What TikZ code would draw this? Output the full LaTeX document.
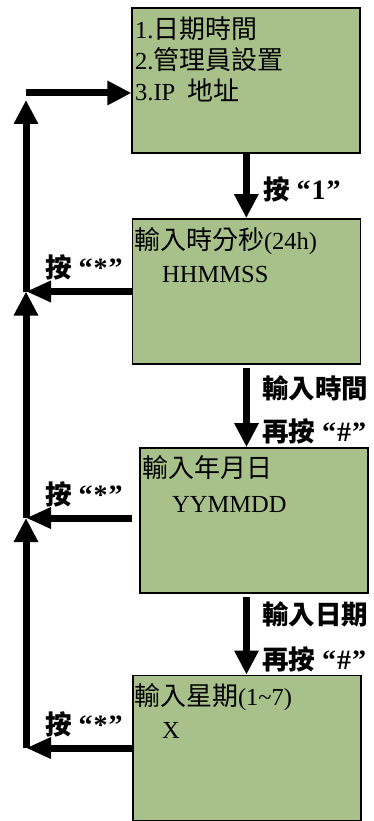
\documentclass[tikz,border=0pt]{standalone}
\usepackage{fontspec}
\setmainfont{Liberation Serif}
\newfontfamily\cjk[Scale=1.06]{Noto Sans CJK TC}
\newfontfamily\cjkl{Noto Sans CJK TC}
\newcommand{\qt}[1]{\hspace{7pt}{\rmfamily\bfseries\fontsize{28}{30}\selectfont “\kern1pt#1\kern1pt”}}
\usetikzlibrary{arrows.meta}
\definecolor{boxgreen}{RGB}{168,192,138}
\tikzset{
  box/.style={draw=black, fill=boxgreen, line width=1.8pt, minimum width=228pt, minimum height=145pt, inner sep=0pt},
  boxtext/.style={anchor=base west, inner sep=0pt, font=\fontsize{24.5}{30}\selectfont},
  lbl/.style={anchor=base west, inner sep=0pt, font=\fontsize{26.5}{30}\selectfont\cjkl\bfseries},
  flow/.style={line width=7pt, -{Triangle[length=24pt,width=23pt]}},
  back/.style={line width=7pt, -{Triangle[length=25pt,width=20pt]}}
}
\begin{document}
\begin{tikzpicture}[x=1pt,y=-1pt]
\useasboundingbox (0,0) rectangle (374,821);
% boxes
\node[box] (b1) at (246.3,80.5) {};
\node[box] (b2) at (246.5,291.5) {};
\node[box] (b3) at (254,520.5) {};
\node[box] (b4) at (247,748) {};
% labels
\node[lbl] (l1) at (263,200) {按\qt{1}};
\node[lbl] (l2) at (262,398) {輸入時間};
\node[lbl] (l3) at (262,441) {再按\qt{\#}};
\node[lbl] (l4) at (262,624) {輸入日期};
\node[lbl] (l5) at (262,669) {再按\qt{\#}};
\node[lbl] (l6) at (45,277) {按\qt{*}};
\node[lbl] (l7) at (45,504) {按\qt{*}};
\node[lbl] (l8) at (45,734) {按\qt{*}};
% box texts
\node[boxtext] (t11) at (135,39) {1.{\cjk 日期時間}};
\node[boxtext] (t12) at (135,70) {2.{\cjk 管理員設置}};
\node[boxtext] (t13) at (135,101) {3.IP\ \ {\cjk 地址}};
\node[boxtext] (t21) at (134,249) {{\cjk 輸入時分秒}(24h)};
\node[boxtext] (t22) at (162,282) {HHMMSS};
\node[boxtext] (t31) at (142,477) {{\cjk 輸入年月日}};
\node[boxtext] (t32) at (172,512) {YYMMDD};
\node[boxtext] (t41) at (134,705) {{\cjk 輸入星期}(1\textasciitilde 7)};
\node[boxtext] (t42) at (162,738) {X};
% coordinates
\coordinate (j1) at (26,100);
\coordinate (j2) at (26,291.5);
\coordinate (j3) at (26,518);
\coordinate (j4) at (26,748);
\coordinate (s3) at (132,518);
\coordinate (top) at (26,93);
% down arrows
\draw[flow] (b1.south) -- (b1.south |- b2.north);
\draw[flow] ([yshift=-3pt]b2.south) -- (b2.south |- b3.north);
\draw[flow] ([yshift=-3pt]b2.south |- b3.south) -- (b2.south |- b4.north);
% back arrows
\draw[back] (b2.west) -- (j2);
\draw[back] (s3) -- (j3);
\draw[back] (b4.west) -- (j4);
\draw[flow] (j4) -- (j3);
\draw[flow] (j3) -- (j2);
\draw[flow] (j2) -- (j1);
\draw[flow] (top) -- (top -| b1.west);
\end{tikzpicture}
\end{document}
